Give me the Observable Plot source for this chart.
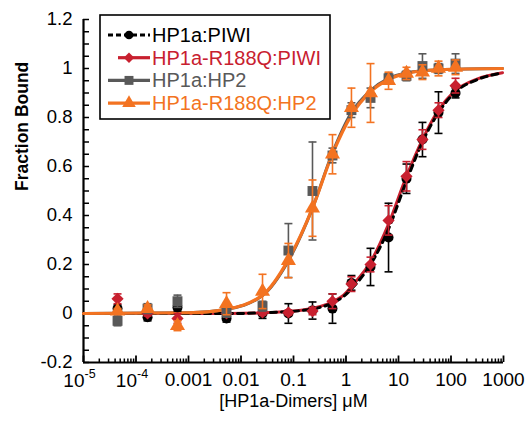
<!DOCTYPE html>
<html><head><meta charset="utf-8">
<script src="https://cdn.jsdelivr.net/npm/d3@7"></script>
<script src="https://cdn.jsdelivr.net/npm/@observablehq/plot@0.6"></script>
<style>
body{margin:0;background:#fff;font-family:"Liberation Sans",Arial,sans-serif}
#wrap{position:relative;width:526px;height:422px}
</style></head>
<body><div id="wrap"></div>
<script>
// ---- data ----
const conc = [4.45e-5, 1.66e-4, 6.17e-4, 0.0053, 0.0257, 0.080, 0.230, 0.553, 1.27, 2.93, 6.46, 14.2, 28.6, 57.8, 122];

const piwiVals   = [0.02, -0.015, 0.025, -0.02, 0.0, 0.0, 0.012, 0.02, 0.125, 0.19, 0.31, 0.55, 0.71, 0.82, 0.90];
const piwiErr    = [0.015, 0.015, 0.015, 0.015, 0.02, 0.04, 0.035, 0.06, 0.03, 0.076, 0.14, 0.06, 0.07, 0.085, 0.02];
const r188PiwiVals = [0.06, 0.0, -0.02, 0.0, 0.004, 0.004, 0.01, 0.05, 0.12, 0.2, 0.38, 0.56, 0.71, 0.83, 0.93];
const r188PiwiErr  = [0.02, 0.01, 0.02, 0.01, 0.01, 0.01, 0.015, 0.03, 0.03, 0.03, 0.06, 0.06, 0.04, 0.03, 0.03];
const hp2Vals    = [-0.03, 0.02, 0.05, 0.005, 0.03, 0.257, 0.50, 0.645, 0.83, 0.88, 0.96, 0.97, 1.01, 1.0, 1.02];
const hp2Err     = [0.02, 0.02, 0.025, 0.02, 0.02, 0.11, 0.20, 0.03, 0.03, 0.04, 0.02, 0.02, 0.05, 0.02, 0.04];
const r188Hp2Vals = [0.01, 0.02, -0.05, 0.04, 0.09, 0.216, 0.43, 0.65, 0.84, 0.90, 0.95, 0.98, 0.985, 1.0, 1.005];
const r188Hp2Err  = [0.01, 0.015, 0.02, 0.045, 0.07, 0.07, 0.115, 0.08, 0.08, 0.12, 0.035, 0.025, 0.03, 0.03, 0.03];

// fitted curves
const piwiFitX = [1e-5, 0.006, 0.036, 0.14, 0.58, 0.9, 1.33, 2.93, 6.46, 13.6, 28.6, 57.8, 122, 320, 957];
const piwiFitY = [0, 0, 0.004, 0.012, 0.045, 0.07, 0.105, 0.20, 0.345, 0.53, 0.70, 0.82, 0.905, 0.955, 0.982];
const r188PiwiFitY = [0, 0, 0.004, 0.013, 0.05, 0.075, 0.115, 0.21, 0.365, 0.55, 0.71, 0.83, 0.91, 0.958, 0.983];
const hp2FitX = [1e-5, 0.001, 0.005, 0.0257, 0.08, 0.23, 0.55, 1.27, 2.93, 6.46, 14.2, 57.8, 957];
const r188Hp2FitY = [0, 0.003, 0.017, 0.075, 0.22, 0.43, 0.65, 0.81, 0.905, 0.955, 0.98, 0.995, 1.0];
const hp2FitY     = [0, 0.003, 0.016, 0.073, 0.215, 0.43, 0.655, 0.82, 0.91, 0.96, 0.982, 0.995, 1.0];

const xTickValues = [1e-5, 1e-4, 1e-3, 1e-2, 1e-1, 1, 10, 100, 1000];
const xTickLabels = ["", "", "0.001", "0.01", "0.1", "1", "10", "100", "1000"];
const xPowValues = [1e-5, 1e-4];
const xPowBase = ["10", "10"];
const xPowExp = ["-5", "-4"];
const yTickValues = [-0.2, 0, 0.2, 0.4, 0.6, 0.8, 1, 1.2];
const yTickLabels = ["-0.2", "0", "0.2", "0.4", "0.6", "0.8", "1", "1.2"];

const seriesNames = ["HP1a:PIWI", "HP1a-R188Q:PIWI", "HP1a:HP2", "HP1a-R188Q:HP2"];
const colors = ["#000000", "#c8202f", "#595959", "#f37321"];

// ---- build tables ----
const pts = (vals, errs) => conc.map((c, i) => ({x: c, y: vals[i], lo: vals[i] - errs[i], hi: vals[i] + errs[i]}));
const crv = (xs, ys) => xs.map((x, i) => ({x, y: ys[i]}));
const sPiwi = pts(piwiVals, piwiErr), sRP = pts(r188PiwiVals, r188PiwiErr), sHp2 = pts(hp2Vals, hp2Err), sRH = pts(r188Hp2Vals, r188Hp2Err);

const yMinor = d3.range(-4, 25).map(k => k * 0.05);
const xMinor = [];
for (let e = -5; e < 3; e++) for (let m = 2; m <= 9; m++) xMinor.push(m * Math.pow(10, e));

const W = 526, H = 422, mL = 83, mR = 23, mT = 19, mB = 60;
const pw = W - mL - mR, ph = H - mT - mB;
const xLab = new Map(xTickValues.map((v, i) => [v, xTickLabels[i]]));
const yLab = new Map(yTickValues.map((v, i) => [v, yTickLabels[i]]));
const powTable = xPowValues.map((v, i) => ({x: v, b: xPowBase[i], e: xPowExp[i]}));

const cap = {draw(ctx, size) { const w = Math.sqrt(size / Math.PI); ctx.moveTo(-w, 0); ctx.lineTo(w, 0); }};

function errMarks(data, color) {
  return [
    Plot.ruleX(data, {x: "x", y1: "lo", y2: "hi", stroke: color, strokeWidth: 1.6}),
    Plot.dot(data, {x: "x", y: "hi", symbol: cap, r: 4, stroke: color, strokeWidth: 1.6, fill: "none"}),
    Plot.dot(data, {x: "x", y: "lo", symbol: cap, r: 4, stroke: color, strokeWidth: 1.6, fill: "none"})
  ];
}

const chart = Plot.plot({
  width: W, height: H, marginLeft: mL, marginRight: mR, marginTop: mT, marginBottom: mB,
  style: {fontFamily: "'Liberation Sans', Arial, sans-serif", background: "#fff", color: "#000", overflow: "visible"},
  x: {type: "log", domain: [1e-5, 1000]},
  y: {domain: [-0.2, 1.2]},
  marks: [
    Plot.axisX(xTickValues, {tickSize: 0, tickPadding: 10, tickFormat: d => xLab.get(d), fontSize: 19, label: null}),
    Plot.text(powTable, {x: "x", frameAnchor: "bottom", text: "b", dx: 1, dy: 10.5, fontSize: 19, lineAnchor: "top", textAnchor: "end"}),
    Plot.text(powTable, {x: "x", frameAnchor: "bottom", text: "e", dx: 1, dy: 6.5, fontSize: 12.5, lineAnchor: "top", textAnchor: "start"}),
    Plot.axisY(yTickValues, {tickSize: 0, tickPadding: 11, tickFormat: d => yLab.get(d), fontSize: 18.5, label: null}),
    Plot.text(["[HP1a-Dimers] \u03BCM"], {frameAnchor: "bottom", dy: 44, text: d => d, fontSize: 18, lineAnchor: "bottom"}),
    Plot.text(["Fraction Bound"], {frameAnchor: "left", dx: -61, rotate: -90, text: d => d, fontSize: 17.5, fontWeight: "bold"}),
    Plot.tickY(yMinor, {y: d => d, insetRight: pw - 6, stroke: "#000", strokeWidth: 1.5}),
    Plot.tickX(xMinor, {x: d => d, insetTop: ph - 3.5, stroke: "#000", strokeWidth: 1.5}),
    Plot.tickX(xTickValues, {x: d => d, insetTop: ph - 6.5, stroke: "#000", strokeWidth: 1.8}),
    Plot.ruleX([1e-5], {stroke: "#000", strokeWidth: 2.2}),
    Plot.ruleY([-0.2], {stroke: "#000", strokeWidth: 2.2}),
    // curves
    Plot.line(crv(piwiFitX, r188PiwiFitY), {x: "x", y: "y", stroke: colors[1], strokeWidth: 3, curve: "monotone-x"}),
    Plot.line(crv(piwiFitX, piwiFitY), {x: "x", y: "y", stroke: colors[0], strokeWidth: 3, strokeDasharray: "6,5", curve: "monotone-x"}),
    Plot.line(crv(hp2FitX, hp2FitY), {x: "x", y: "y", stroke: colors[2], strokeWidth: 3, curve: "monotone-x"}),
    Plot.line(crv(hp2FitX, r188Hp2FitY), {x: "x", y: "y", stroke: colors[3], strokeWidth: 3.2, curve: "monotone-x"}),
    // points
    ...errMarks(sPiwi, colors[0]),
    Plot.dot(sPiwi, {x: "x", y: "y", symbol: "circle", r: 5, fill: colors[0]}),
    ...errMarks(sRP, colors[1]),
    Plot.dot(sRP, {x: "x", y: "y", symbol: "diamond2", r: 5.5, fill: colors[1]}),
    ...errMarks(sHp2, colors[2]),
    Plot.dot(sHp2, {x: "x", y: "y", symbol: "square", r: 5.6, fill: colors[2]}),
    ...errMarks(sRH, colors[3]),
    Plot.dot(sRH, {x: "x", y: "y", symbol: "triangle", r: 5.6, fill: colors[3]})
  ]
});
document.getElementById("wrap").appendChild(chart);

// ---- legend (inside plot area, boxed) ----
const symbols = [d3.symbolCircle, d3.symbolDiamond2, d3.symbolSquare, d3.symbolTriangle];
const symSizes = [60, 70, 80, 80];
const lineStart = [9, 19, 9, 9];
const legend = d3.select("#wrap").append("svg")
  .attr("width", 233).attr("height", 107)
  .style("position", "absolute").style("left", "99px").style("top", "14px");
legend.append("rect").attr("x", 1).attr("y", 1).attr("width", 230).attr("height", 104)
  .attr("fill", "#fff").attr("stroke", "#000").attr("stroke-width", 1.6);
seriesNames.forEach((name, i) => {
  const cy = 21 + i * 22.7;
  legend.append("line").attr("x1", lineStart[i]).attr("x2", 51).attr("y1", cy).attr("y2", cy)
    .attr("stroke", colors[i]).attr("stroke-width", 3.2)
    .attr("stroke-dasharray", i === 0 ? "5,3" : null);
  legend.append("path").attr("d", d3.symbol(symbols[i], symSizes[i])())
    .attr("transform", `translate(30,${cy})`).attr("fill", colors[i]);
  legend.append("text").attr("x", 53).attr("y", cy + 7).text(name)
    .attr("fill", colors[i]).style("font-size", "20px")
    .style("font-family", "'Liberation Sans', Arial, sans-serif");
});
</script>
</body></html>
